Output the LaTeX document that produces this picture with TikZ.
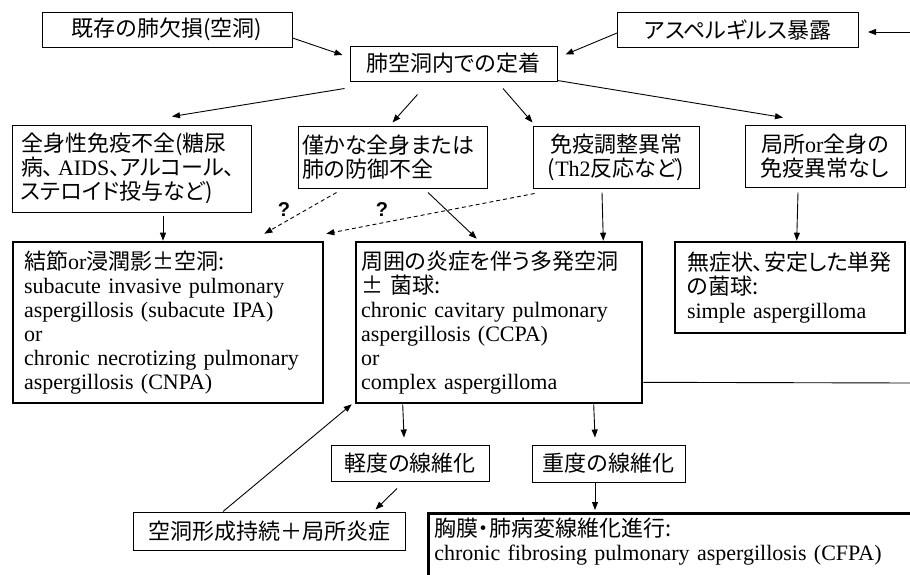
\documentclass[tikz,border=0pt]{standalone}
\usepackage{fontspec}
\setmainfont{Liberation Serif}
\newfontfamily\jpf[RawFeature=+palt]{Noto Sans CJK JP}
\newfontfamily\qmf{Liberation Sans}
\newcommand{\jpt}[1]{{\jpf #1}}
\usetikzlibrary{arrows.meta,calc}
\tikzset{
  txt/.style={font=\fontsize{22}{24}\selectfont},
  thinbox/.style={draw, line width=1pt, txt, inner ysep=0pt},
  thickbox/.style={draw, line width=2.6pt, txt, inner ysep=0pt},
  arr/.style={-{Triangle[length=8pt,width=6pt]}, line width=0.9pt},
  dasharr/.style={arr, dash pattern=on 4pt off 3pt},
  plainline/.style={line width=0.9pt},
  qlabel/.style={font=\qmf\bfseries\fontsize{20}{20}\selectfont, inner sep=0pt}
}
\begin{document}
\begin{tikzpicture}[x=1pt,y=-1pt]
\useasboundingbox (0,0) rectangle (910,574);
\clip (0,0) rectangle (910,574);
% top row
\node[thinbox, minimum width=250, minimum height=35, text width=240, inner xsep=5, align=center] (b1) at (167,29.5) {\jpt{既存の肺欠損(空洞)}};
\node[thinbox, minimum width=207, minimum height=35, text width=197, inner xsep=5, align=center] (b2) at (453.5,63.5) {\jpt{肺空洞内での定着}};
\node[thinbox, minimum width=241, minimum height=35, text width=231, inner xsep=5, align=center] (b3) at (738,30) {\jpt{アスペルギルス暴露}};
% second row
\node[thinbox, minimum width=239, minimum height=87, text width=221, inner xsep=9, align=left] (b4) at (131.5,168.5) {\jpt{全身性免疫不全(糖尿}\\\jpt{病、}\kern4pt AIDS\jpt{、アルコール、}\\\jpt{ステロイド投与など)}};
\node[thinbox, minimum width=189, minimum height=62, text width=181, inner xsep=4, align=left] (b5) at (392.5,157) {\jpt{僅かな全身または}\\\jpt{肺の防御不全}};
\node[thinbox, minimum width=166, minimum height=62, text width=158, inner xsep=4, align=center] (b6) at (616,157) {\jpt{免疫調整異常}\\\jpt{(}Th2\jpt{反応など)}};
\node[thinbox, minimum width=160, minimum height=62, text width=152, inner xsep=4, align=center] (b7) at (825,156) {\jpt{局所}or\jpt{全身の}\\\jpt{免疫異常なし}};
% third row
\node[thickbox, minimum width=310, minimum height=161, text width=288, inner xsep=11, align=left] (b8) at (168,322.5) {\jpt{結節}or\jpt{浸潤影±空洞:}\\subacute invasive pulmonary\\aspergillosis (subacute IPA)\\or\\chronic necrotizing pulmonary\\aspergillosis (CNPA)};
\node[thickbox, minimum width=286, minimum height=161, text width=276, inner xsep=5, align=left] (b9) at (499,322.5) {\jpt{周囲の炎症を伴う多発空洞}\\\jpt{± 菌球:}\\chronic cavitary pulmonary\\aspergillosis (CCPA)\\or\\complex aspergilloma};
\node[thickbox, minimum width=230, minimum height=91, text width=206, inner xsep=12, align=left] (b10) at (790,287.5) {\jpt{無症状、安定した単発}\\\jpt{の菌球:}\\simple aspergilloma};
% bottom
\node[thinbox, minimum width=158, minimum height=36, text width=150, inner xsep=4, align=center] (b11) at (410,463) {\jpt{軽度の線維化}};
\node[thinbox, minimum width=153, minimum height=37, text width=145, inner xsep=4, align=center] (b12) at (608.5,463.5) {\jpt{重度の線維化}};
\node[thinbox, minimum width=272, minimum height=38, text width=264, inner xsep=4, align=center] (b13) at (269,531) {\jpt{空洞形成持続＋局所炎症}};
\node[thickbox, anchor=north west, minimum width=540, text width=528, inner xsep=5, inner ysep=5, align=left] (b14) at (427,512) {\jpt{胸膜・肺病変線維化進行:}\\chronic fibrosing pulmonary aspergillosis (CFPA)\\\rule{0pt}{50pt}};
% free ends
\coordinate (rin) at (912,32);
\coordinate (rout) at (912,383);
% connectors
\draw[arr] ($(b1.east)+(0,8.5)$) -- ($(b2.west)+(-7,-8.5)$);
\draw[arr] ($(b3.west)+(0,3)$) -- ($(b2.north east)+(8,9)$);
\draw[arr] (rin) -- ($(b3.east)+(9,2)$);
\draw[arr] ($(b2.south west)+(-5,7)$) -- ($(b4.north)+(40.5,-8)$);
\draw[arr] ($(b2.south west)+(68,13)$) -- ($(b5.north)+(0,-3)$);
\draw[arr] ($(b2.south)+(49.5,7)$) -- ($(b6.north west)+(0,-3)$);
\draw[arr] ($(b2.south east)+(0,-1)$) -- ($(b7.north)+(-42,-7)$);
\draw[arr] ($(b4.south)+(31.5,3)$) -- ($(b8.north)+(-5,0)$);
\draw[dasharr] ($(b5.south west)+(39,4)$) -- ($(b8.north east)+(-60,-7)$);
\draw[dasharr] ($(b6.south west)+(2,5)$) -- ($(b8.north east)+(2,-7)$);
\draw[arr] ($(b5.south)+(35.5,4)$) -- ($(b9.north west)+(122,-2)$);
\draw[arr] ($(b6.south)+(-14,4)$) -- ($(b9.north east)+(-40,0)$);
\draw[arr] ($(b7.south)+(-27,5)$) -- ($(b10.north west)+(123,0)$);
\draw[plainline] ($(b9.south east)+(0,-22)$) -- (rout);
\draw[arr] ($(b9.south west)+(48,0)$) -- ($(b11.north)+(-6,-7)$);
\draw[arr] ($(b9.south west)+(239,0)$) -- ($(b12.north)+(-13.5,-7)$);
\draw[arr] ($(b11.south)+(-13,7)$) -- ($(b13.north east)+(-30,-2)$);
\draw[arr] ($(b13.north)+(-46,0)$) -- ($(b9.south west)+(-3,0)$);
\draw[arr] ($(b12.south)+(-13.5,0)$) -- ($(b14.north west)+(168,-2)$);
% question marks
\node[qlabel] (q1) at (284,210) {?};
\node[qlabel] (q2) at (382,210) {?};
\end{tikzpicture}
\end{document}
